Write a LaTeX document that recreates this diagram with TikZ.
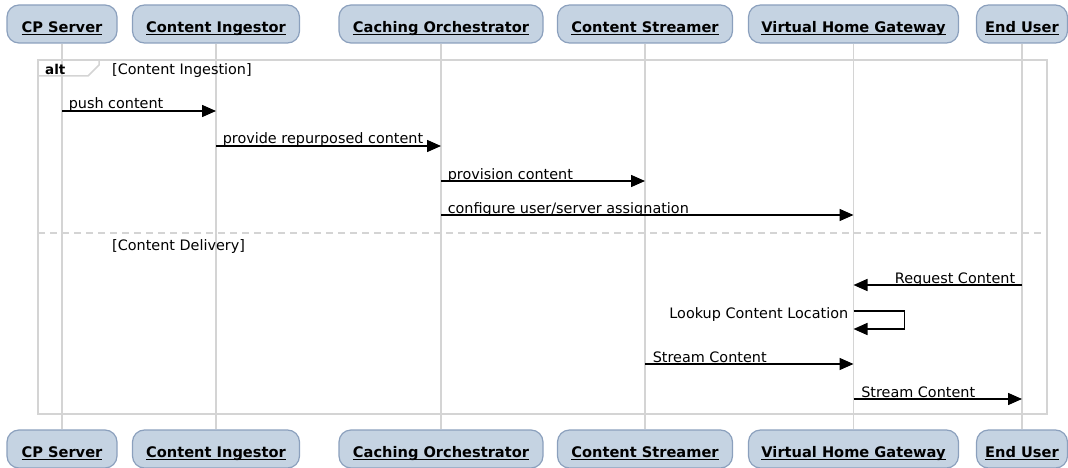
\documentclass[tikz,border=0pt]{standalone}
\usepackage{fontspec}
\setmainfont{DejaVu Sans}
\usetikzlibrary{arrows.meta,positioning}

\definecolor{lifefill}{RGB}{197,211,226}
\definecolor{lifedraw}{RGB}{139,160,189}
\definecolor{framegray}{RGB}{212,212,212}

% bold participant name with a fixed underline
\newcommand{\lifelabel}[1]{\setbox0\hbox{#1}\rlap{\rule[-2.6pt]{\wd0}{1.3pt}}\box0}

\tikzset{
  lifebox/.style={rectangle, rounded corners=12pt, draw=lifedraw, line width=1.2pt, fill=lifefill,
    minimum height=38pt, text height=17pt, text depth=0pt, inner xsep=0pt,
    font=\fontsize{14.6}{17}\selectfont\bfseries},
  lifeline/.style={draw=framegray, line width=1.5pt},
  altframe/.style={draw=framegray, line width=1.5pt},
  msg/.style={line width=1.5pt, -{Triangle[length=14pt,width=12pt]}},
  msgtext/.style={inner sep=0pt, font=\fontsize{14.4}{17}\selectfont},
}

\begin{document}
\begin{tikzpicture}[x=1pt, y=-1pt]
      \useasboundingbox (0,0) rectangle (1068,468);
      %\draw[help lines, step=50] (0,0) grid (1068,468);

      % participants, top row
      \node [lifebox, minimum width=110pt] (cpT)   at (62,24)    {\lifelabel{CP Server}};
      \node [lifebox, minimum width=167pt] (ingT)  at (216,24)   {\lifelabel{Content Ingestor}};
      \node [lifebox, minimum width=204pt] (orchT) at (441,24)   {\lifelabel{Caching Orchestrator}};
      \node [lifebox, minimum width=175pt] (strT)  at (645,24)   {\lifelabel{Content Streamer}};
      \node [lifebox, minimum width=210pt] (gwT)   at (853.5,24) {\lifelabel{Virtual Home Gateway}};
      \node [lifebox, minimum width=91pt]  (userT) at (1022,24)  {\lifelabel{End User}};

      % participants, bottom row
      \node [lifebox, minimum width=110pt] (cpB)   at (62,449)    {\lifelabel{CP Server}};
      \node [lifebox, minimum width=167pt] (ingB)  at (216,449)   {\lifelabel{Content Ingestor}};
      \node [lifebox, minimum width=204pt] (orchB) at (441,449)   {\lifelabel{Caching Orchestrator}};
      \node [lifebox, minimum width=175pt] (strB)  at (645,449)   {\lifelabel{Content Streamer}};
      \node [lifebox, minimum width=210pt] (gwB)   at (853.5,449) {\lifelabel{Virtual Home Gateway}};
      \node [lifebox, minimum width=91pt]  (userB) at (1022,449)  {\lifelabel{End User}};

      \foreach \p in {cp, ing, orch, str, gw, user}
        \draw[lifeline] (\p T.south) -- (\p B.north);

      % alt frame
      \coordinate (altNW) at (38,60);
      \coordinate (altSE) at (1047,414);
      \coordinate (altSep) at (0,233);
      \draw[altframe] (altNW) rectangle (altSE);
      \draw[altframe] (altNW |- 0,76) -- (88,76) -- (99,65) -- (99,60);
      \draw[altframe, dash pattern=on 7pt off 5pt] (altNW |- altSep) -- (altSE |- altSep);
      \node [anchor=base west, inner sep=0pt, font=\fontsize{13.5}{16}\selectfont\bfseries] (altTag) at (45,75) {alt};
      \node [msgtext, anchor=base west] (guardA) at (112,75)  {[Content Ingestion]};
      \node [msgtext, anchor=base west] (guardB) at (112,250) {[Content Delivery]};

      % message rows
      \coordinate (m1) at (0,111);
      \coordinate (m2) at (0,146);
      \coordinate (m3) at (0,181);
      \coordinate (m4) at (0,215);
      \coordinate (m5) at (0,285);
      \coordinate (m6) at (0,311);
      \coordinate (m6b) at (0,329);
      \coordinate (m7) at (0,364);
      \coordinate (m8) at (0,399);

      \draw[msg] (cpT |- m1) -- (ingT |- m1)
        node [msgtext, pos=0, anchor=base west, xshift=6pt, yshift=2pt] {push content};
      \draw[msg] (ingT |- m2) -- (orchT |- m2)
        node [msgtext, pos=0, anchor=base west, xshift=6pt, yshift=2pt] {provide repurposed content};
      \draw[msg] (orchT |- m3) -- (strT |- m3)
        node [msgtext, pos=0, anchor=base west, xshift=6pt, yshift=2pt] {provision content};
      \draw[msg] (orchT |- m4) -- (gwT |- m4)
        node [msgtext, pos=0, anchor=base west, xshift=6pt, yshift=2pt] {configure user/server assignation};

      \draw[msg] (userT |- m5) -- (gwT |- m5)
        node [msgtext, pos=0, anchor=base east, xshift=-6pt, yshift=2pt] {Request Content};
      \draw[msg] (gwT |- m6) -- ++(51,0) |- (gwT |- m6b);
      \node [msgtext, anchor=base east, xshift=-5pt, yshift=-7pt] (lookup) at (gwT |- m6) {Lookup Content Location};
      \draw[msg] (strT |- m7) -- (gwT |- m7)
        node [msgtext, pos=0, anchor=base west, xshift=7pt, yshift=2pt] {Stream Content};
      \draw[msg] (gwT |- m8) -- (userT |- m8)
        node [msgtext, pos=0, anchor=base west, xshift=7pt, yshift=2pt] {Stream Content};

\end{tikzpicture}
\end{document}
